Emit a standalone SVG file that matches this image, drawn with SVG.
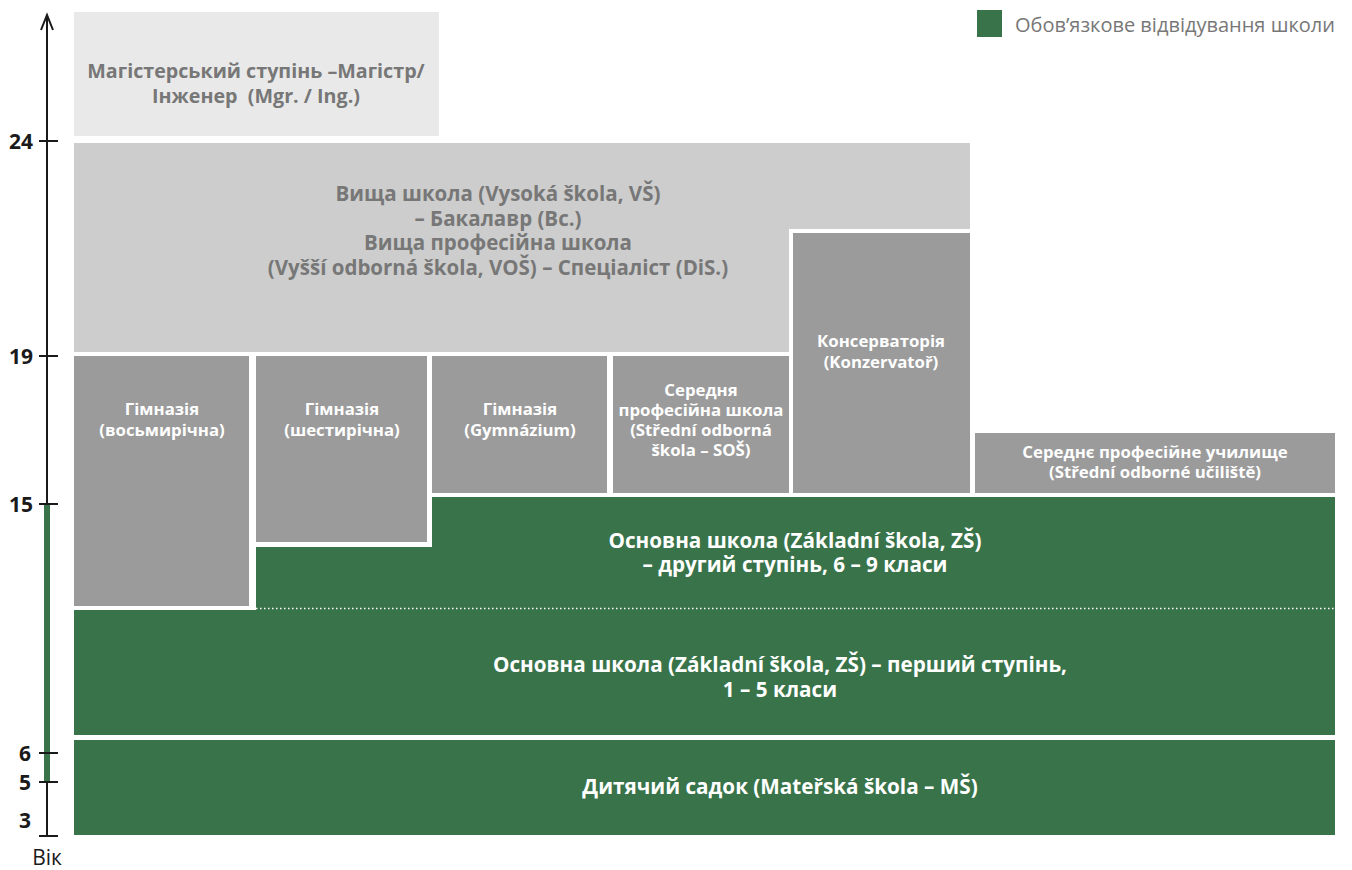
<svg xmlns="http://www.w3.org/2000/svg" width="1352" height="870" viewBox="0 0 1352 870">
<style>
.t{font-family:"Open Sans","Noto Sans","DejaVu Sans",sans-serif;font-weight:700;text-anchor:middle}
.w{fill:#ffffff}
.g{fill:#777777}
.ax{font-family:"Open Sans","Noto Sans","DejaVu Sans",sans-serif;font-weight:700;font-size:21px;fill:#1a1a1a;text-anchor:end}
.green{fill:#38734a}
.dark{fill:#9b9b9b}
.light{fill:#cdcdcd}
.lighter{fill:#e9e9e9}
.tick{stroke:#1a1a1a;stroke-width:2}
</style>
<rect width="1352" height="870" fill="#ffffff"/>
<g id="legend">
<rect x="977" y="10" width="25" height="27" class="green"/>
<text x="1015" y="32" font-family="Open Sans, Noto Sans, sans-serif" font-size="20" fill="#777777">Обов’язкове відвідування школи</text>
</g>
<g id="axis">
<line x1="47" y1="15" x2="47" y2="836" class="tick"/>
<polyline points="41,30 47,15 53,30" fill="none" stroke="#1a1a1a" stroke-width="2"/>
<rect x="44" y="504" width="6" height="278" class="green"/>
<line x1="39" y1="141" x2="58" y2="141" class="tick"/>
<line x1="39" y1="356" x2="58" y2="356" class="tick"/>
<line x1="39" y1="504" x2="58" y2="504" class="tick"/>
<line x1="39" y1="753" x2="58" y2="753" class="tick"/>
<line x1="39" y1="782" x2="58" y2="782" class="tick"/>
<line x1="39" y1="836" x2="58" y2="836" class="tick"/>
<text x="33" y="149" class="ax">24</text>
<text x="33" y="364" class="ax">19</text>
<text x="33" y="512" class="ax">15</text>
<text x="31" y="761" class="ax">6</text>
<text x="31" y="790" class="ax">5</text>
<text x="31" y="828" class="ax">3</text>
<text x="47" y="865" font-family="Open Sans, Noto Sans, sans-serif" font-size="21" fill="#1a1a1a" text-anchor="middle">Вік</text>
</g>
<g id="magistr">
<rect x="74" y="12" width="365" height="124" class="lighter"/>
<text class="t g" font-size="19.7"><tspan x="256" y="78">Магістерський ступінь –Магістр/</tspan><tspan x="256" y="103">Інженер&#160; (Mgr. / Ing.)</tspan></text>
</g>
<g id="vysoka">
<polygon points="74,143 970,143 970,229 789,229 789,352 74,352" class="light"/>
<text class="t g" font-size="20.5"><tspan x="498" y="201">Вища школа (Vysoká škola, VŠ)</tspan><tspan x="498" y="226">– Бакалавр (Bc.)</tspan><tspan x="498" y="250">Вища професійна школа</tspan><tspan x="498" y="275">(Vyšší odborná škola, VOŠ) – Спеціаліст (DiS.)</tspan></text>
</g>
<g id="konzervator">
<rect x="793" y="233" width="177" height="260" class="dark"/>
<text class="t w" font-size="16.8"><tspan x="881" y="347">Консерваторія</tspan><tspan x="881" y="368">(Konzervatoř)</tspan></text>
</g>
<g id="gym8">
<rect x="74" y="356" width="175" height="250" class="dark"/>
<text class="t w" font-size="16.8"><tspan x="162" y="415">Гімназія</tspan><tspan x="162" y="436">(восьмирічна)</tspan></text>
</g>
<g id="gym6">
<rect x="256" y="356" width="171" height="186" class="dark"/>
<text class="t w" font-size="16.8"><tspan x="342" y="415">Гімназія</tspan><tspan x="342" y="436">(шестирічна)</tspan></text>
</g>
<g id="gym4">
<rect x="432" y="356" width="175" height="137" class="dark"/>
<text class="t w" font-size="16.8"><tspan x="520" y="415">Гімназія</tspan><tspan x="520" y="436">(Gymnázium)</tspan></text>
</g>
<g id="sos">
<rect x="613" y="356" width="176" height="137" class="dark"/>
<text class="t w" font-size="16.8"><tspan x="701" y="396">Середня</tspan><tspan x="701" y="416">професійна школа</tspan><tspan x="701" y="436">(Střední odborná</tspan><tspan x="701" y="456">škola – SOŠ)</tspan></text>
</g>
<g id="sou">
<rect x="975" y="433" width="360" height="60" class="dark"/>
<text class="t w" font-size="16.8"><tspan x="1155" y="458">Середнє професійне училище</tspan><tspan x="1155" y="478">(Střední odborné učiliště)</tspan></text>
</g>
<g id="zs2">
<polygon points="256,547 432,547 432,497 1335,497 1335,610 256,610" class="green"/>
<text class="t w" font-size="20.7"><tspan x="795" y="548">Основна школа (Základní škola, ZŠ)</tspan><tspan x="795" y="572">– другий ступінь, 6 – 9 класи</tspan></text>
</g>
<g id="zs1">
<rect x="74" y="610" width="1261" height="125" class="green"/>
<text class="t w" font-size="20.7"><tspan x="780" y="672">Основна школа (Základní škola, ZŠ) – перший ступінь,</tspan><tspan x="780" y="697">1 – 5 класи</tspan></text>
</g>
<g id="connectors">
<line x1="256" y1="608.5" x2="1335" y2="608.5" stroke="#ffffff" stroke-width="1.5" stroke-dasharray="1.5,2.5"/>
</g>
<g id="ms">
<rect x="74" y="740" width="1261" height="95" class="green"/>
<text class="t w" font-size="20.7" x="780" y="794">Дитячий садок (Mateřská škola – MŠ)</text>
</g>
</svg>
